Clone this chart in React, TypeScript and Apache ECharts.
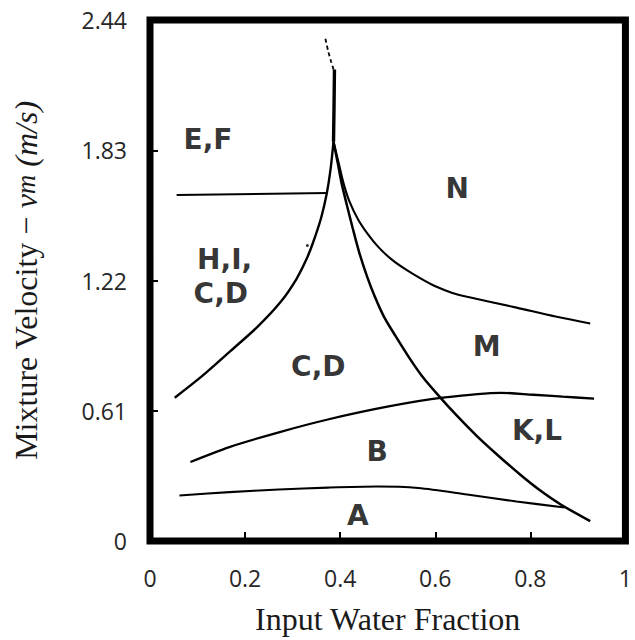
import React, { useEffect, useRef } from "react";
import * as echarts from "echarts";

// Tick labels
const xTickLabels = ["0", "0.2", "0.4", "0.6", "0.8", "1"];
const yTickLabels = ["0", "0.61", "1.22", "1.83", "2.44"];

// Boundary curves [input water fraction, mixture velocity m/s]
const leftBoundary = [
  [0.052, 0.671], [0.11, 0.773], [0.169, 0.889], [0.227, 1.005], [0.275, 1.12],
  [0.308, 1.227], [0.329, 1.319], [0.343, 1.398], [0.36, 1.514], [0.372, 1.63],
  [0.38, 1.745], [0.386, 1.87],
];
const spike = [[0.386, 1.87], [0.387, 2.02], [0.388, 2.208]];
const spikeTip = [[0.369, 2.352], [0.375, 2.292], [0.381, 2.245], [0.386, 2.208]];
const efBoundary = [[0.056, 1.62], [0.373, 1.63]];
const steepBoundary = [
  [0.386, 1.87], [0.395, 1.769], [0.403, 1.676], [0.413, 1.583], [0.426, 1.468],
  [0.44, 1.352], [0.457, 1.236], [0.473, 1.144], [0.492, 1.051], [0.517, 0.958],
  [0.543, 0.866], [0.572, 0.773], [0.607, 0.681], [0.645, 0.588], [0.686, 0.495],
  [0.731, 0.403], [0.779, 0.31], [0.818, 0.241], [0.864, 0.171], [0.926, 0.093],
];
const nBoundary = [
  [0.386, 1.87], [0.397, 1.769], [0.407, 1.676], [0.419, 1.593], [0.438, 1.505],
  [0.459, 1.435], [0.481, 1.375], [0.508, 1.319], [0.537, 1.273], [0.568, 1.231],
  [0.599, 1.194], [0.636, 1.162], [0.667, 1.144], [0.771, 1.093], [0.853, 1.051],
  [0.926, 1.019],
];
const bBoundary = [
  [0.085, 0.37], [0.167, 0.44], [0.271, 0.509], [0.374, 0.569], [0.502, 0.63],
  [0.616, 0.671], [0.738, 0.694], [0.806, 0.685], [0.868, 0.676], [0.934, 0.667],
];
const aBoundary = [
  [0.062, 0.213], [0.167, 0.229], [0.271, 0.241], [0.374, 0.25], [0.477, 0.255],
  [0.564, 0.248], [0.667, 0.218], [0.771, 0.185], [0.872, 0.157],
];
const strayDot = [[0.331, 1.384]];

// Region labels
const regionNames = ["E,F", "N", "H,I,", "C,D", "C,D", "B", "A", "M", "K,L"];
const regionX = [0.122, 0.646, 0.157, 0.149, 0.354, 0.478, 0.437, 0.708, 0.814];
const regionY = [1.88, 1.653, 1.319, 1.157, 0.819, 0.421, 0.12, 0.912, 0.519];

const lineSeries = (data: number[][], width = 2.2, type: any = "solid", smooth: any = 0.3) => ({
  type: "line",
  data,
  showSymbol: false,
  smooth,
  silent: true,
  lineStyle: { color: "#000", width, type },
  z: 3,
});

export default function App() {
  const ref = useRef<HTMLDivElement>(null);
  useEffect(() => {
    document.body.style.margin = "0";
    const chart = echarts.init(ref.current!, null, { renderer: "svg" });
    const tickFont = { fontFamily: "Open Sans", fontSize: 23, color: "#262626" };
    chart.setOption({
      animation: false,
      grid: {
        left: 150,
        right: 1,
        top: 20,
        bottom: 93,
        show: true,
        borderWidth: 7,
        borderColor: "#000",
        backgroundColor: "#fff",
      },
      xAxis: {
        type: "value",
        min: 0,
        max: 1,
        interval: 0.2,
        axisLine: { show: false },
        splitLine: { show: false },
        axisTick: { show: true, inside: true, length: 9, lineStyle: { color: "#000", width: 2 } },
        axisLabel: {
          ...tickFont,
          margin: 25,
          formatter: (v: number) => xTickLabels[Math.round(v / 0.2)] ?? "",
        },
        name: "Input Water Fraction",
        nameLocation: "middle",
        nameGap: 62,
        nameTextStyle: { fontFamily: "Liberation Serif", fontSize: 32, color: "#1a1a1a" },
      },
      yAxis: {
        type: "value",
        min: 0,
        max: 2.44,
        interval: 0.61,
        axisLine: { show: false },
        splitLine: { show: false },
        axisTick: { show: true, inside: true, length: 8, lineStyle: { color: "#000", width: 2 } },
        axisLabel: {
          ...tickFont,
          margin: 23,
          padding: [10, 0, 0, 0],
          formatter: (v: number) => yTickLabels[Math.round(v / 0.61)] ?? "",
        },
        name: "{n|Mixture Velocity − }{i|v}{s|m}{i| (m/s)}",
        nameLocation: "middle",
        nameGap: 108,
        nameTextStyle: {
          fontFamily: "Liberation Serif",
          fontSize: 32,
          color: "#1a1a1a",
          rich: {
            n: { fontFamily: "Liberation Serif", fontSize: 32, color: "#1a1a1a" },
            i: { fontFamily: "Liberation Serif", fontSize: 32, fontStyle: "italic", color: "#1a1a1a" },
            s: { fontFamily: "Liberation Serif", fontSize: 27, fontStyle: "italic", color: "#1a1a1a" },
          },
        },
      },
      series: [
        lineSeries(leftBoundary, 2.4),
        lineSeries(spike, 3.4, "solid", false),
        lineSeries(spikeTip, 1.8, [4, 3]),
        lineSeries(efBoundary, 2, "solid", false),
        lineSeries(steepBoundary, 2.5),
        lineSeries(nBoundary, 2.1),
        lineSeries(bBoundary, 2.3),
        lineSeries(aBoundary, 2.1),
        {
          type: "scatter",
          data: strayDot,
          symbolSize: 3,
          itemStyle: { color: "#000" },
          silent: true,
        },
        {
          type: "scatter",
          symbolSize: 0,
          silent: true,
          data: regionNames.map((n, i) => ({ name: n, value: [regionX[i], regionY[i]] })),
          label: {
            show: true,
            position: "inside",
            formatter: "{b}",
            fontFamily: "DejaVu Sans",
            fontWeight: "bold",
            fontSize: 28,
            color: "#000",
          },
          z: 5,
        },
      ],
    });
    return () => chart.dispose();
  }, []);
  return (
    <div
      ref={ref}
      style={{ width: 635, height: 640, position: "absolute", left: 0, top: 0 }}
    />
  );
}
